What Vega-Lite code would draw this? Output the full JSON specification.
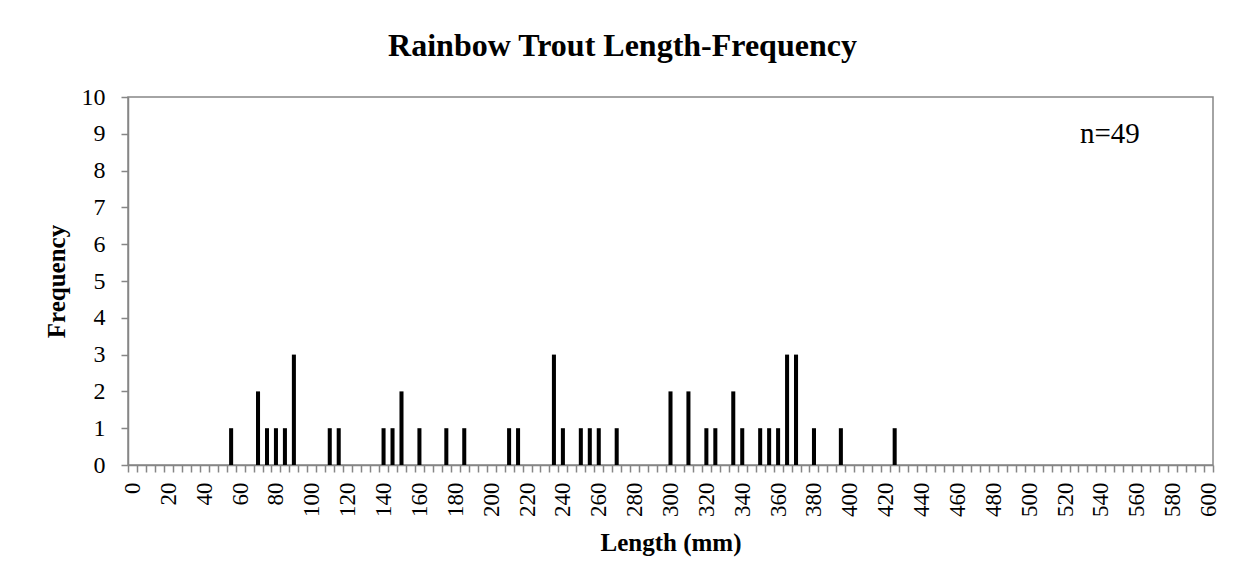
{
  "$schema": "https://vega.github.io/schema/vega-lite/v6.json",
  "width": 1085,
  "height": 368,
  "autosize": {"type": "none"},
  "padding": {"left": 128, "top": 97, "right": 25, "bottom": 114},
  "background": "white",
  "config": {
    "font": "Liberation Serif",
    "view": {"stroke": "#868686", "strokeWidth": 1.5},
    "axis": {"domainColor": "#868686", "tickColor": "#868686", "domainWidth": 1.5, "tickWidth": 1.5, "labelColor": "black", "titleColor": "black", "grid": false, "labelFont": "Liberation Serif", "titleFont": "Liberation Serif"}
  },
  "title": {
    "text": "Rainbow Trout Length-Frequency",
    "font": "Liberation Serif",
    "fontSize": 32,
    "fontWeight": "bold",
    "color": "black",
    "anchor": "middle",
    "dx": -48,
    "offset": 22
  },
  "data": {
    "values": [
      {"length": 55, "freq": 1}, {"length": 70, "freq": 2}, {"length": 75, "freq": 1}, {"length": 80, "freq": 1},
      {"length": 85, "freq": 1}, {"length": 90, "freq": 3}, {"length": 110, "freq": 1}, {"length": 115, "freq": 1},
      {"length": 140, "freq": 1}, {"length": 145, "freq": 1}, {"length": 150, "freq": 2}, {"length": 160, "freq": 1},
      {"length": 175, "freq": 1}, {"length": 185, "freq": 1}, {"length": 210, "freq": 1}, {"length": 215, "freq": 1},
      {"length": 235, "freq": 3}, {"length": 240, "freq": 1}, {"length": 250, "freq": 1}, {"length": 255, "freq": 1},
      {"length": 260, "freq": 1}, {"length": 270, "freq": 1}, {"length": 300, "freq": 2}, {"length": 310, "freq": 2},
      {"length": 320, "freq": 1}, {"length": 325, "freq": 1}, {"length": 335, "freq": 2}, {"length": 340, "freq": 1},
      {"length": 350, "freq": 1}, {"length": 355, "freq": 1}, {"length": 360, "freq": 1}, {"length": 365, "freq": 3},
      {"length": 370, "freq": 3}, {"length": 380, "freq": 1}, {"length": 395, "freq": 1}, {"length": 425, "freq": 1}
    ]
  },
  "encoding": {
    "y": {
      "type": "quantitative",
      "scale": {"domain": [0, 10], "nice": false, "zero": true},
      "axis": {
        "title": "Frequency",
        "titleFontSize": 25,
        "titleFontWeight": "bold",
        "titlePadding": 12,
        "labelFontSize": 24,
        "labelPadding": 16,
        "labelOverlap": false,
        "labelSeparation": 0,
        "tickSize": 7,
        "values": [0,1,2,3,4,5,6,7,8,9,10]
      }
    }
  },
  "layer": [
    {
      "mark": {"type": "bar", "color": "black", "width": {"band": 0.45}},
      "encoding": {
        "x": {
          "field": "length",
          "type": "ordinal",
          "scale": {
            "domain": [0,5,10,15,20,25,30,35,40,45,50,55,60,65,70,75,80,85,90,95,100,105,110,115,120,125,130,135,140,145,150,155,160,165,170,175,180,185,190,195,200,205,210,215,220,225,230,235,240,245,250,255,260,265,270,275,280,285,290,295,300,305,310,315,320,325,330,335,340,345,350,355,360,365,370,375,380,385,390,395,400,405,410,415,420,425,430,435,440,445,450,455,460,465,470,475,480,485,490,495,500,505,510,515,520,525,530,535,540,545,550,555,560,565,570,575,580,585,590,595,600],
            "paddingInner": 0,
            "paddingOuter": 0
          },
          "axis": {
            "title": "Length (mm)",
            "titleFontSize": 25,
            "titleFontWeight": "bold",
            "titlePadding": 14,
            "labelFontSize": 23,
            "labelAngle": -90,
            "labelOverlap": false,
            "labelPadding": 10,
            "tickSize": 7,
            "tickBand": "extent",
            "labelExpr": "datum.value % 20 === 0 ? datum.label : ''"
          }
        },
        "y": {"field": "freq"}
      }
    },
    {
      "data": {"values": [{}]},
      "mark": {"type": "text", "text": "n=49", "fontSize": 29, "font": "Liberation Serif", "color": "black", "align": "center", "baseline": "alphabetic"},
      "encoding": {
        "x": {"datum": 545, "type": "ordinal"},
        "y": {"datum": 8.75}
      }
    }
  ]
}
